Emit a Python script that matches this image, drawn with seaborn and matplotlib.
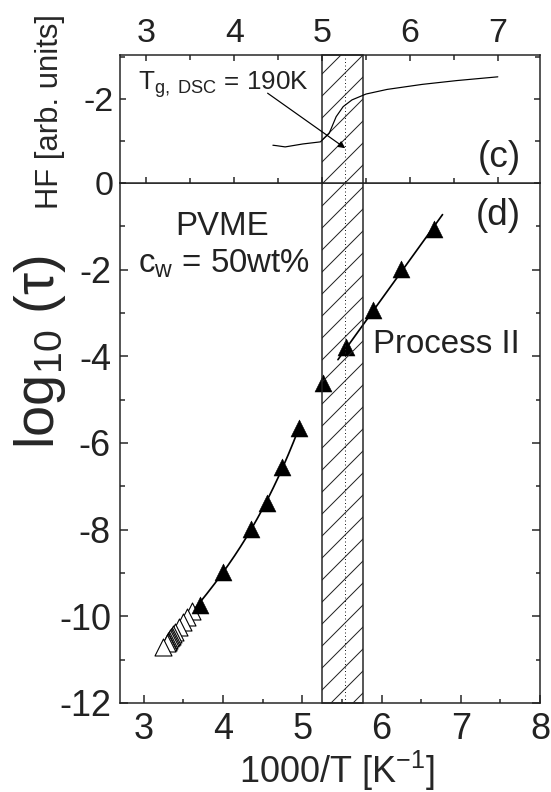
import numpy as np
import pandas as pd
import seaborn as sns
import matplotlib
matplotlib.use("Agg")
import matplotlib.pyplot as plt
from matplotlib.patches import Rectangle
from matplotlib.lines import Line2D
from matplotlib.transforms import blended_transform_factory
from matplotlib.ticker import MultipleLocator, FixedLocator

# ---------------- data ----------------
# relaxation times, process I: open symbols (high temperature)
open_x = [3.61, 3.55, 3.50, 3.45, 3.40, 3.37, 3.355, 3.34, 3.33, 3.32, 3.31, 3.30, 3.29, 3.24]
open_y = [-9.88, -10.02, -10.13, -10.24, -10.35, -10.41, -10.45, -10.48, -10.51, -10.54,
          -10.57, -10.59, -10.62, -10.70]
# process I: filled symbols
proc1_x = [3.71, 4.00, 4.35, 4.55, 4.75, 4.96]
proc1_y = [-9.74, -8.97, -7.98, -7.38, -6.56, -5.65]
# process II
proc2_x = [5.26, 5.55, 5.89, 6.25, 6.66]
proc2_y = [-4.62, -3.79, -2.93, -1.99, -1.07]
# ranges over which the fitted curves are drawn
fit1_range = (3.16, 4.96)
fit2_range = (5.45, 6.77)

# DSC heat flow trace (upper panel)
hf_x = [4.44, 4.48, 4.58, 4.78, 4.98, 5.08, 5.16, 5.24, 5.34, 5.50, 5.74, 6.14, 6.53, 7.00]
hf_y = [-0.90, -0.89, -0.86, -0.93, -0.98, -1.18, -1.58, -1.82, -1.98, -2.12, -2.23, -2.35,
        -2.44, -2.53]
tg_dsc = 190.0                     # K
glass_band = (5.0, 5.47)           # 1000/T range of the glass transition
arrow_tail = (4.38, -2.14)
arrow_head_y = -0.83

log_ticks = [-12, -10, -8, -6, -4, -2]
hf_ticks = [-2, 0]

# ---------------- style ----------------
DPI = 132


def px(v):
    """pixel size -> points"""
    return v * 72.0 / DPI


sns.set_theme(style="ticks")
plt.rcParams.update({
    "font.family": ["Liberation Sans", "DejaVu Sans"],
    "mathtext.fontset": "custom",
    "mathtext.rm": "Liberation Sans",
    "mathtext.it": "Liberation Sans:italic",
    "mathtext.bf": "Liberation Sans:bold",
    "mathtext.sf": "Liberation Sans",
    "axes.unicode_minus": False,
    "axes.linewidth": px(1.5),
    "axes.edgecolor": "#222222",
    "hatch.linewidth": px(1.0),
    "text.color": "#222222",
    "xtick.color": "#222222",
    "ytick.color": "#222222",
})

fig = plt.figure(figsize=(551 / DPI, 792 / DPI), dpi=DPI)
L, W = 120 / 551, 420 / 551
B_bot, H_bot = 1 - 703 / 792, 520 / 792
H_top = 128 / 792
ax_bot = fig.add_axes([L, B_bot, W, H_bot])
ax_top = fig.add_axes([L, B_bot + H_bot, W, H_top])
for ax in (ax_bot, ax_top):
    ax.set_facecolor("white")
    for s in ax.spines.values():
        s.set_linewidth(px(1.5))
        s.set_color("#222222")

# ---------------- lower panel: relaxation map ----------------
x_all = np.array(open_x + proc1_x)
y_all = np.array(open_y + proc1_y)
c1 = np.polyfit(x_all, y_all, 3)
xf1 = np.linspace(*fit1_range, 200)
c2 = np.polyfit(proc2_x, proc2_y, 1)
xf2 = np.linspace(*fit2_range, 50)

fits = pd.concat([
    pd.DataFrame({"x": xf1, "y": np.polyval(c1, xf1), "branch": "I"}),
    pd.DataFrame({"x": xf2, "y": np.polyval(c2, xf2), "branch": "II"}),
])
sns.lineplot(data=fits, x="x", y="y", units="branch", estimator=None, sort=False,
             color="black", lw=px(1.7), legend=False, ax=ax_bot, zorder=2)

msize = px(17) ** 2
sns.scatterplot(x=open_x, y=open_y, marker="^", s=msize, facecolor="white",
                edgecolor="black", linewidth=px(1.1), ax=ax_bot, zorder=3)
sns.scatterplot(x=proc1_x + proc2_x, y=proc1_y + proc2_y, marker="^", s=msize,
                color="black", edgecolor="black", linewidth=px(0.5), ax=ax_bot, zorder=3)

ax_bot.set_xlim(2.7, 8.0)
ax_bot.set_ylim(-12, 0)
ax_bot.xaxis.set_major_locator(MultipleLocator(1))
ax_bot.xaxis.set_minor_locator(MultipleLocator(0.5))
ax_bot.yaxis.set_major_locator(FixedLocator(log_ticks))
ax_bot.yaxis.set_minor_locator(MultipleLocator(1))
ax_bot.tick_params(which="both", direction="in", bottom=True, top=False, left=True,
                   right=True, width=px(1.5), labelsize=px(36), pad=px(9))
ax_bot.tick_params(which="major", length=px(8))
ax_bot.tick_params(which="minor", length=px(4.5))

ax_bot.set_xlabel("1000/T [K$^{-1}$]", fontsize=px(36))
ax_bot.xaxis.label.set_va("center")
ax_bot.xaxis.set_label_coords(0.517, -0.13)
ax_bot.set_ylabel("log$_{10}$ (τ)", fontsize=px(56))
ax_bot.yaxis.label.set_va("center")
ax_bot.yaxis.set_label_coords(-0.19, 0.675)

ax_bot.text(0.243, 0.90, "PVME", transform=ax_bot.transAxes, fontsize=px(33),
            ha="center", va="baseline")
ax_bot.text(0.043, 0.827, "c$_\\mathrm{w}$ = 50wt%", transform=ax_bot.transAxes,
            fontsize=px(33), ha="left", va="baseline")
ax_bot.text(0.90, 0.919, "(d)", transform=ax_bot.transAxes, fontsize=px(37),
            ha="center", va="baseline")
ax_bot.text(0.602, 0.673, "Process II", transform=ax_bot.transAxes, fontsize=px(33),
            ha="left", va="baseline")

# ---------------- upper panel: DSC heat flow ----------------
sns.lineplot(x=hf_x, y=hf_y, sort=False, estimator=None, color="black", lw=px(1.2),
             ax=ax_top, zorder=3)
ax_top.set_xlim(2.7, 7.48)
ax_top.set_ylim(0, -3.05)
ax_top.xaxis.set_major_locator(MultipleLocator(1))
ax_top.xaxis.set_minor_locator(MultipleLocator(0.5))
ax_top.yaxis.set_major_locator(FixedLocator(hf_ticks))
ax_top.yaxis.set_minor_locator(MultipleLocator(1))
ax_top.tick_params(which="both", direction="in", bottom=True, top=True, left=True,
                   right=True, labelbottom=False, labeltop=True, width=px(1.5),
                   labelsize=px(34), pad=px(6))
ax_top.tick_params(which="major", length=px(6))
ax_top.tick_params(which="minor", length=px(5))
ax_top.set_xlabel("")
ax_top.set_ylabel("HF [arb. units]", fontsize=px(31))
ax_top.yaxis.label.set_va("center")
ax_top.yaxis.set_label_coords(-0.167, 0.56)

tg_x = 1000.0 / tg_dsc
ax_top.text(0.043, 0.727, "T$_\\mathrm{g,\\ DSC}$ = 190K", transform=ax_top.transAxes,
            fontsize=px(26), ha="left", va="baseline")
ax_top.annotate("", xy=(tg_x, arrow_head_y), xytext=arrow_tail,
                arrowprops=dict(arrowstyle="-|>", color="black", lw=px(1.2),
                                mutation_scale=px(14), shrinkA=0, shrinkB=0))
ax_top.text(0.902, 0.125, "(c)", transform=ax_top.transAxes, fontsize=px(37),
            ha="center", va="baseline")

# glass-transition band spanning both panels
y0 = B_bot
y1 = B_bot + H_bot + H_top
trans = blended_transform_factory(ax_top.transData, fig.transFigure)
band = Rectangle((glass_band[0], y0), glass_band[1] - glass_band[0], y1 - y0,
                 transform=trans, facecolor="none", edgecolor="#222222",
                 hatch="//", lw=px(1.5), clip_on=False, zorder=1)
ax_top.add_patch(band)
ax_top.add_line(Line2D([tg_x, tg_x], [y0, y1], transform=trans, color="#222222",
                       lw=px(1.0), ls=(0, (1, 2.5)), clip_on=False, zorder=1))

fig.savefig("out.png", dpi=DPI)
